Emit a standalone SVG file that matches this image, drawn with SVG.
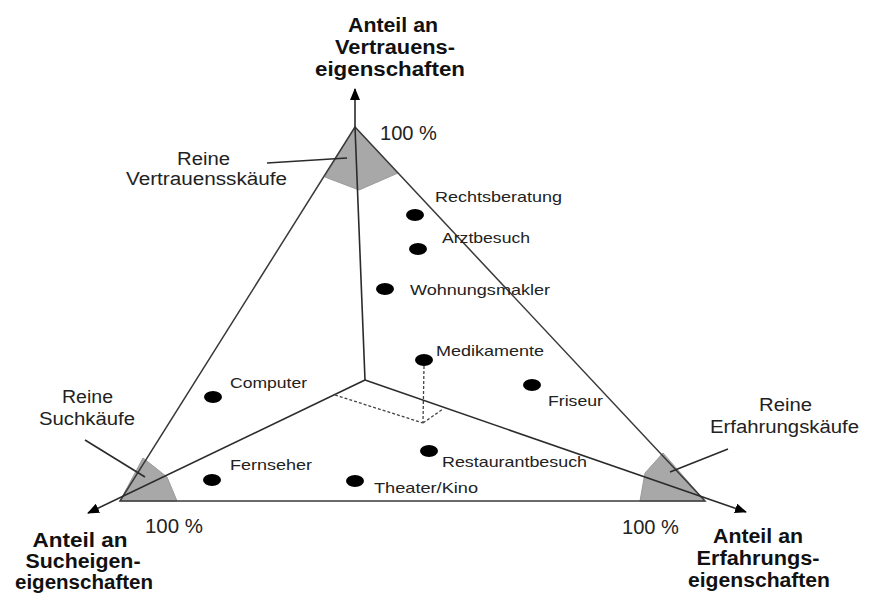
<svg xmlns="http://www.w3.org/2000/svg" width="869" height="594" viewBox="0 0 869 594">
<defs>
<style>
.ax{stroke:#2b2b2b;stroke-width:1.6;fill:none}
.ed{stroke:#3a3a3a;stroke-width:1.5;fill:none}
.zone{fill:#a8a8a8;stroke:#9a9a9a;stroke-width:1}
.dash{stroke:#444;stroke-width:1.3;stroke-dasharray:3 2;fill:none}
.dot{fill:#000}
.b{font-family:"Liberation Sans",Arial,sans-serif;font-weight:bold;font-size:20px;fill:#111;text-anchor:middle}
.r{font-family:"Liberation Sans",Arial,sans-serif;font-size:18px;fill:#222}
.p{font-family:"Liberation Sans",Arial,sans-serif;font-size:20px;fill:#222}
.s{font-family:"Liberation Sans",Arial,sans-serif;font-size:14.5px;fill:#222}
</style>
<marker id="arr" viewBox="0 0 12 10" refX="11" refY="5" markerWidth="12" markerHeight="10" markerUnits="userSpaceOnUse" orient="auto">
<path d="M0,0 L12,5 L0,10 z" fill="#000"/>
</marker>
</defs>
<rect width="869" height="594" fill="#fff"/>

<g id="zones">
<polygon class="zone" points="355,127 325,177 359,190 398,173"/>
<polygon class="zone" points="120,501 143,458 167,477 177,501"/>
<polygon class="zone" points="663,453 645,473 640,501 705,501"/>
</g>

<g id="connectors">
<polygon class="ed" points="355,127 120,501 705,501"/>
<polyline class="ax" points="365,380 355,127 355,89" marker-end="url(#arr)"/>
<line class="ax" x1="365" y1="380" x2="88" y2="513" marker-end="url(#arr)"/>
<line class="ax" x1="365" y1="380" x2="746" y2="512" marker-end="url(#arr)"/>
<line class="ax" x1="267" y1="163" x2="347" y2="158"/>
<line class="ax" x1="85" y1="440" x2="145" y2="477"/>
<line class="ax" x1="728" y1="449" x2="670" y2="472"/>
<line class="dash" x1="424" y1="366" x2="423" y2="423"/>
<line class="dash" x1="335" y1="395" x2="423" y2="423"/>
<line class="dash" x1="423" y1="423" x2="443" y2="409"/>
</g>

<g id="axis-top">
<text class="b" x="393" y="32" textLength="90" lengthAdjust="spacingAndGlyphs">Anteil an</text>
<text class="b" x="395" y="54" textLength="120" lengthAdjust="spacingAndGlyphs">Vertrauens-</text>
<text class="b" x="390" y="76" textLength="150" lengthAdjust="spacingAndGlyphs">eigenschaften</text>
<text class="p" x="380" y="140" textLength="57" lengthAdjust="spacingAndGlyphs">100 %</text>
</g>
<g id="axis-left">
<text class="b" x="80" y="547" textLength="95" lengthAdjust="spacingAndGlyphs">Anteil an</text>
<text class="b" x="83" y="568" textLength="115" lengthAdjust="spacingAndGlyphs">Sucheigen-</text>
<text class="b" x="84" y="589" textLength="138" lengthAdjust="spacingAndGlyphs">eigenschaften</text>
<text class="p" x="145" y="533" textLength="58" lengthAdjust="spacingAndGlyphs">100 %</text>
</g>
<g id="axis-right">
<text class="b" x="758" y="543" textLength="90" lengthAdjust="spacingAndGlyphs">Anteil an</text>
<text class="b" x="758" y="565" textLength="123" lengthAdjust="spacingAndGlyphs">Erfahrungs-</text>
<text class="b" x="759" y="587" textLength="142" lengthAdjust="spacingAndGlyphs">eigenschaften</text>
<text class="p" x="622" y="534" textLength="57" lengthAdjust="spacingAndGlyphs">100 %</text>
</g>

<g id="reine-vertrauenskaeufe">
<text class="r" x="177" y="165" textLength="53" lengthAdjust="spacingAndGlyphs">Reine</text>
<text class="r" x="126" y="185" textLength="161" lengthAdjust="spacingAndGlyphs">Vertrauensskäufe</text>
</g>
<g id="reine-suchkaeufe">
<text class="r" x="62" y="403" textLength="51" lengthAdjust="spacingAndGlyphs">Reine</text>
<text class="r" x="39" y="425" textLength="96" lengthAdjust="spacingAndGlyphs">Suchkäufe</text>
</g>
<g id="reine-erfahrungskaeufe">
<text class="r" x="759" y="411" textLength="53" lengthAdjust="spacingAndGlyphs">Reine</text>
<text class="r" x="710" y="433" textLength="149" lengthAdjust="spacingAndGlyphs">Erfahrungskäufe</text>
</g>

<g id="rechtsberatung"><ellipse class="dot" cx="415" cy="215" rx="9" ry="6"/><text class="s" x="435" y="202" textLength="127" lengthAdjust="spacingAndGlyphs">Rechtsberatung</text></g>
<g id="arztbesuch"><ellipse class="dot" cx="418" cy="249" rx="9" ry="6"/><text class="s" x="442" y="243" textLength="88" lengthAdjust="spacingAndGlyphs">Arztbesuch</text></g>
<g id="wohnungsmakler"><ellipse class="dot" cx="385" cy="289" rx="9" ry="6"/><text class="s" x="410" y="295" textLength="140" lengthAdjust="spacingAndGlyphs">Wohnungsmakler</text></g>
<g id="medikamente"><ellipse class="dot" cx="424" cy="360" rx="9" ry="6"/><text class="s" x="436" y="356" textLength="108" lengthAdjust="spacingAndGlyphs">Medikamente</text></g>
<g id="friseur"><ellipse class="dot" cx="532" cy="385" rx="9" ry="6"/><text class="s" x="548" y="406" textLength="55" lengthAdjust="spacingAndGlyphs">Friseur</text></g>
<g id="computer"><ellipse class="dot" cx="213" cy="397" rx="9" ry="6"/><text class="s" x="230" y="388" textLength="77" lengthAdjust="spacingAndGlyphs">Computer</text></g>
<g id="restaurantbesuch"><ellipse class="dot" cx="429" cy="451" rx="9" ry="6"/><text class="s" x="442" y="467" textLength="145" lengthAdjust="spacingAndGlyphs">Restaurantbesuch</text></g>
<g id="fernseher"><ellipse class="dot" cx="212" cy="480" rx="9" ry="6"/><text class="s" x="230" y="470" textLength="82" lengthAdjust="spacingAndGlyphs">Fernseher</text></g>
<g id="theater-kino"><ellipse class="dot" cx="355" cy="481" rx="9" ry="6"/><text class="s" x="374" y="493" textLength="104" lengthAdjust="spacingAndGlyphs">Theater/Kino</text></g>
</svg>
